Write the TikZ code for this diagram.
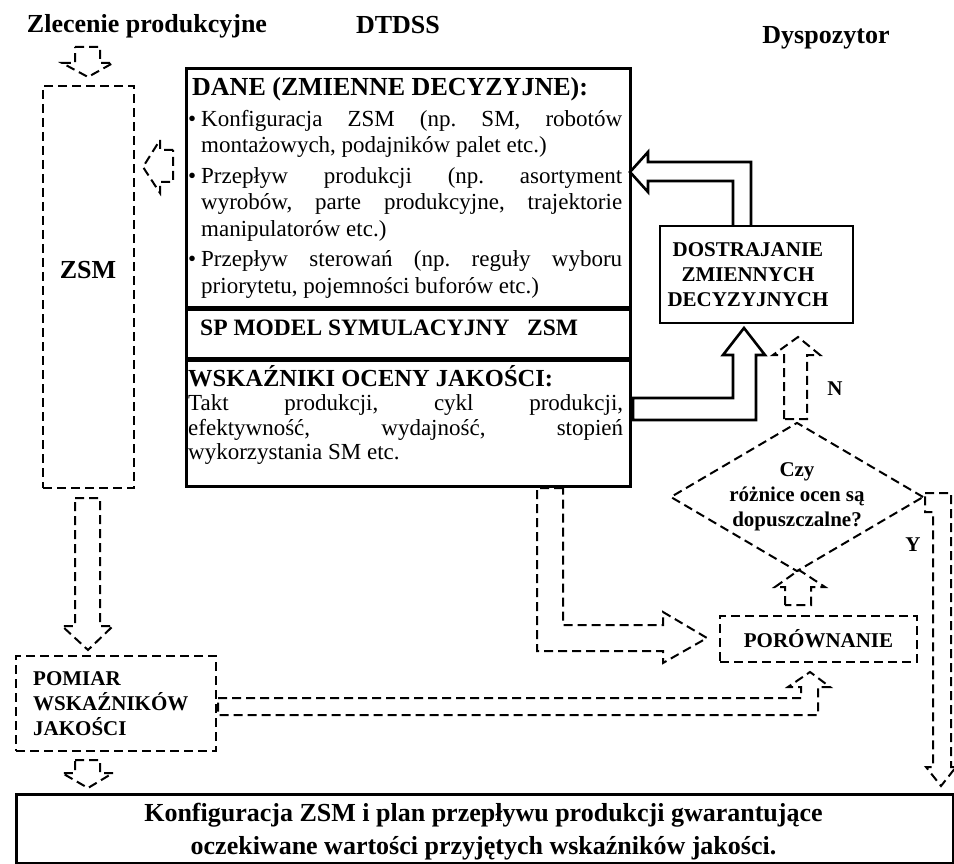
\documentclass[tikz,border=0pt]{standalone}
\usepackage{fontspec}
\setmainfont{Liberation Serif}
\usetikzlibrary{shapes.geometric}
\frenchspacing

\begin{document}
\begin{tikzpicture}[x=1pt,y=-1pt,
  dbox/.style={draw,line width=2pt,dash pattern=on 9pt off 5pt,inner sep=0pt},
  sbox/.style={draw,line width=2.6pt,inner sep=0pt},
  darr/.style={line width=2pt,dash pattern=on 9pt off 5pt,line join=miter},
  sarr/.style={line width=2.6pt,line join=miter},
  lbl/.style={font=\bfseries\fontsize{21}{25}\selectfont,align=center,inner sep=0pt},
  ttl/.style={font=\bfseries\fontsize{26}{30}\selectfont,inner sep=0pt,anchor=base},
  hdr/.style={font=\bfseries\fontsize{23.5}{26}\selectfont,inner sep=0pt,anchor=base west},
  body/.style={font=\fontsize{23}{26.5}\selectfont,align=justify,inner sep=0pt,anchor=base west}]
  \def\bul{\leavevmode\llap{\textbullet\hspace{5pt}}}
  \useasboundingbox (0,0) rectangle (954,864);

  \node[ttl] (zlec) at (147,33) {Zlecenie produkcyjne};
  \node[ttl] (dtdss) at (398,34) {DTDSS};
  \node[ttl] (dysp) at (826,44) {Dyspozytor};

  \node[dbox,minimum width=91,minimum height=402,anchor=north west] (zsm) at (42,85) {};
  \node[ttl] (zsmtxt) at (88,278) {ZSM};

  \node[sbox,minimum width=444,minimum height=239,anchor=north west] (dane) at (185,67) {};
  \node[sbox,minimum width=444,minimum height=48,anchor=north west] (model) at (dane.south west) {};
  \node[sbox,minimum width=444,minimum height=126,anchor=north west] (wsk) at (model.south west) {};

  \node[body,text width=430] (danetxt) at (192,96) {{\bfseries\fontsize{26}{26}\selectfont DANE (ZMIENNE DECYZYJNE):}\par
    \parskip=4pt\leftskip=9pt
    \bul Konfiguracja ZSM (np. SM, robotów\linebreak montażowych, podajników palet etc.)\par
    \bul Przepływ produkcji (np. asortyment\linebreak wyrobów, parte produkcyjne, trajektorie\linebreak manipulatorów etc.)\par
    \bul Przepływ sterowań (np. reguły wyboru\linebreak priorytetu, pojemności buforów etc.)\par};
  \node[hdr] (modeltxt) at (200,335) {SP MODEL SYMULACYJNY~~~ZSM};
  \node[body,font=\fontsize{23}{24.5}\selectfont,text width=435] (wsktxt) at (188,386)
    {{\bfseries\fontsize{24.5}{26}\selectfont WSKAŹNIKI OCENY JAKOŚCI:}\par
    Takt produkcji, cykl produkcji,\linebreak efektywność, wydajność, stopień\linebreak wykorzystania SM etc.\par};

  \node[sbox,minimum width=193,minimum height=97] (dostr) at (756.5,274.5) {};
  \node[lbl] (dostrtxt) at (748,274.5) {DOSTRAJANIE\\ZMIENNYCH\\DECYZYJNYCH};
  \node[dbox,lbl,diamond,aspect=1.7,minimum width=253,minimum height=149] (czy) at (797,497) {Czy\\różnice ocen są\\dopuszczalne?};
  \node[lbl,anchor=base] (n) at (835,395) {N};
  \node[lbl,anchor=base] (y) at (913,551) {Y};
  \node[dbox,lbl,minimum width=197,minimum height=46] (por) at (818.5,639) {PORÓWNANIE};

  \node[dbox,minimum width=200,minimum height=95,anchor=north west] (pom) at (15,655) {};
  \node[lbl,align=left,anchor=west] (pomtxt) at (33,704) {POMIAR\\WSKAŹNIKÓW\\JAKOŚCI};

  \node[sbox,minimum width=937,minimum height=69,anchor=north west] (wynik) at (15,793) {};
  \node[font=\bfseries\fontsize{26}{33}\selectfont,align=center,inner sep=0pt] (wyniktxt) at (483.5,831.5)
    {Konfiguracja ZSM i plan przepływu produkcji gwarantujące\\oczekiwane wartości przyjętych wskaźników jakości.};

  \draw[darr] (75,47) -- (100,47) -- (100,63) -- (113,63) -- (88,77) -- (62,63) -- (75,63) -- cycle;
  \draw[darr] (173,150) -- (160,150) -- (160,140) -- (143,167) -- (160,193) -- (160,182) -- (173,182) -- cycle;
  \draw[darr] (75,498) -- (100,498) -- (100,626) -- (113,626) -- (88,650) -- (62,626) -- (75,626) -- cycle;
  \draw[darr] (75,760) -- (100,760) -- (100,773) -- (113,773) -- (88,788) -- (62,773) -- (75,773) -- cycle;
  \draw[darr] (563,488) -- (537,488) -- (537,651) -- (663,651) -- (663,663) -- (707,638) -- (663,612) -- (663,625) -- (563,625) -- cycle;
  \draw[sarr] (733,226) -- (733,181) -- (648,181) -- (648,192) -- (630,172) -- (648,152) -- (648,162) -- (751,162) -- (751,226);
  \draw[sarr] (633,398) -- (733,398) -- (733,355) -- (723,355) -- (744,328) -- (765,355) -- (756,355) -- (756,420) -- (633,420) -- cycle;
  \draw[darr] (784,419) -- (784,355) -- (773,355) -- (798,337) -- (820,355) -- (807,355) -- (807,419) -- cycle;
  \draw[darr] (785,605) -- (785,587) -- (775,587) -- (799,570) -- (825,587) -- (811,587) -- (811,605) -- cycle;
  \draw[darr] (218,698) -- (801,698) -- (801,687) -- (788,687) -- (810,672) -- (830,687) -- (818,687) -- (818,715) -- (218,715) -- cycle;
  \draw[darr] (925,493) -- (951,493) -- (951,767) -- (956,767) -- (941,786) -- (926,767) -- (933,767) -- (933,512) -- (925,512) -- cycle;
\end{tikzpicture}
\end{document}
